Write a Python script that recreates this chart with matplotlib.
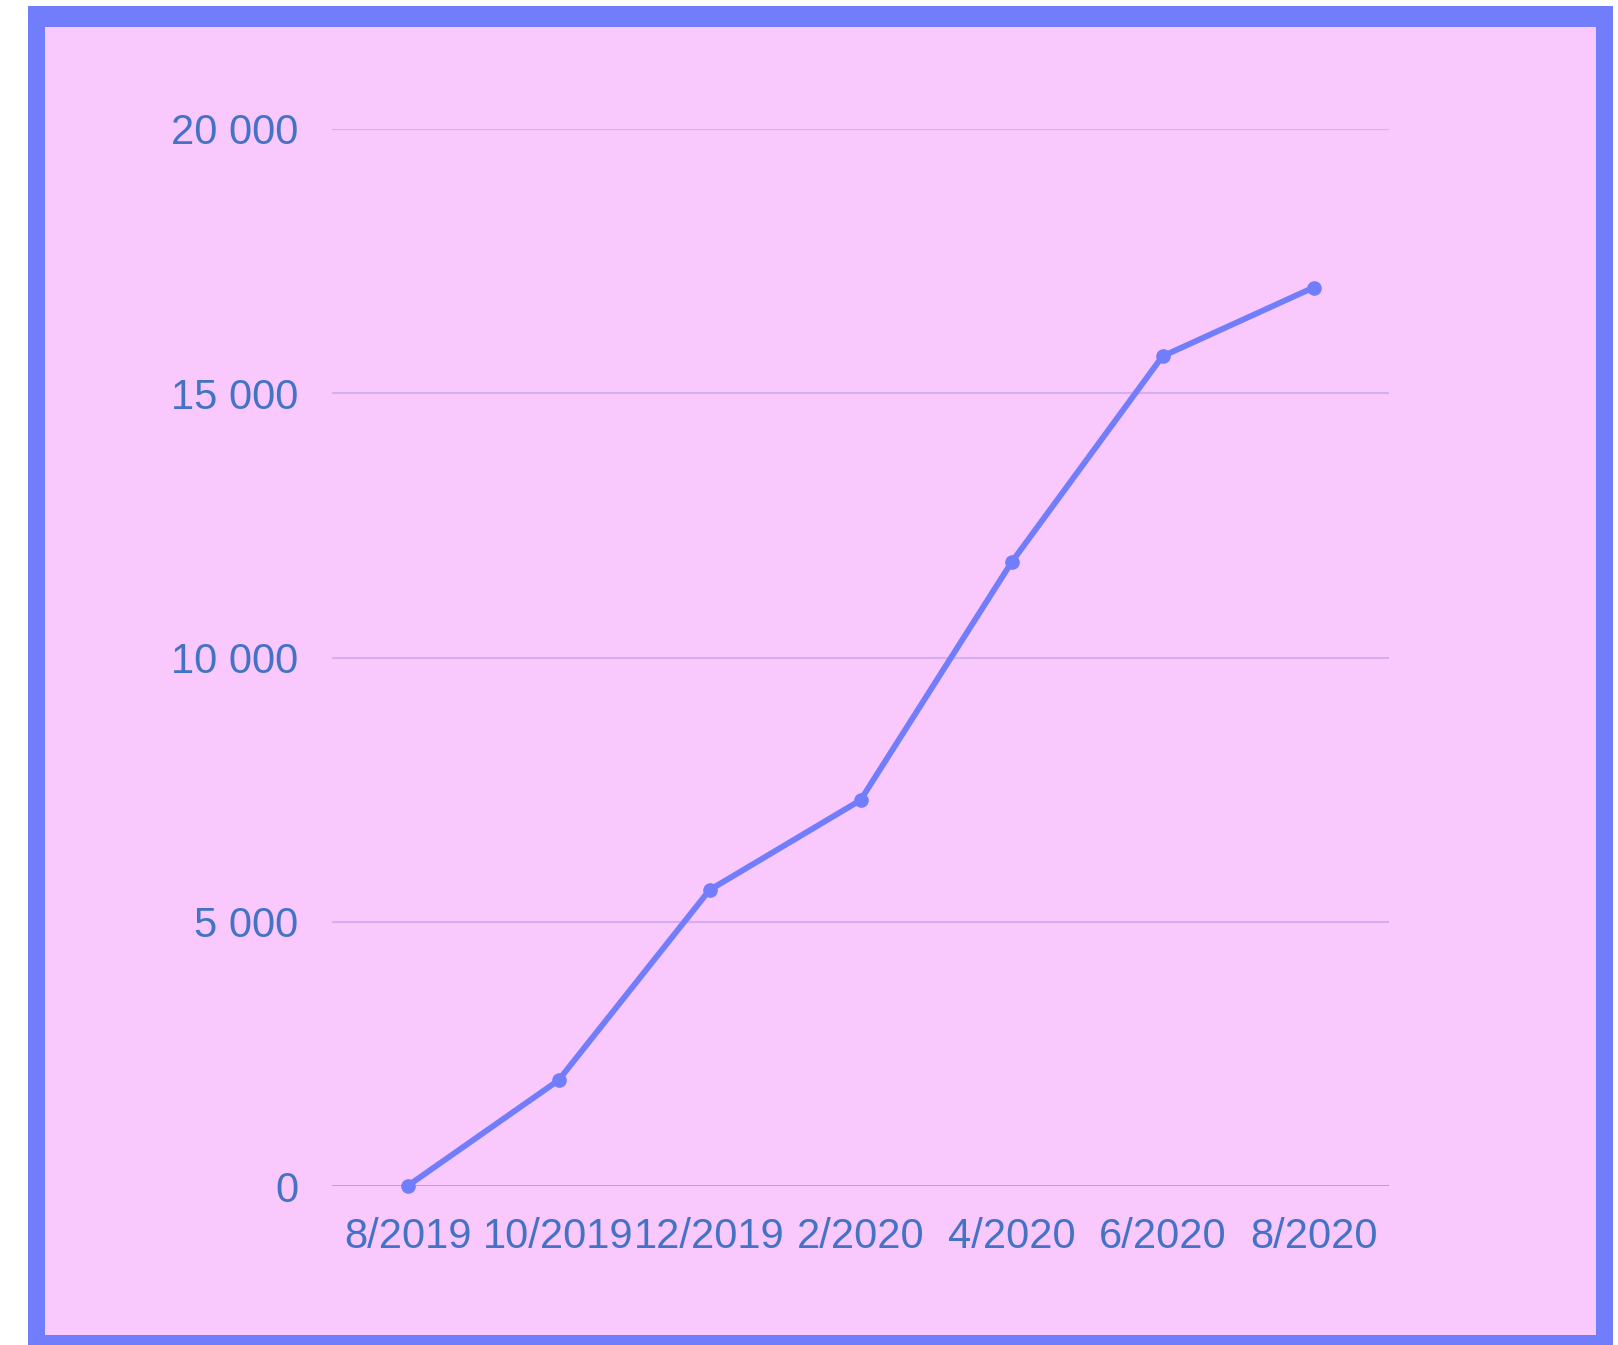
import matplotlib

matplotlib.use('Agg')

import matplotlib.pyplot as plt
from matplotlib.patches import Rectangle
from matplotlib.ticker import FuncFormatter

plt.rcParams['font.family'] = ['Liberation Sans', 'DejaVu Sans']

# data
months = ["8/2019", "10/2019", "12/2019", "2/2020", "4/2020", "6/2020", "8/2020"]
values = [0, 2000, 5600, 7300, 11800, 15700, 17000]
y_ticks = [0, 5000, 10000, 15000, 20000]

W, H = 1618, 1345
border_col = "#717dfb"
bg_col = "#f9c8fd"
text_col = "#4472c4"


def main():
    fig = plt.figure(figsize=(W / 100, H / 100), dpi=100)
    fig.patch.set_facecolor("white")

    # outer frame and pink panel (pixel coords -> figure fraction)
    fig.patches.append(Rectangle((28 / W, 0), (1613 - 28) / W, (H - 6) / H, lw=0,
                                 transform=fig.transFigure, color=border_col, zorder=-2))
    fig.patches.append(Rectangle((45 / W, (H - 1335) / H), (1596 - 45) / W, (1335 - 27) / H, lw=0,
                                 transform=fig.transFigure, color=bg_col, zorder=-1))

    ax = fig.add_axes([332 / W, 1 - 1186 / H, (1389 - 332) / W, (1186 - 129) / H])
    ax.set_facecolor("none")

    x = list(range(len(months)))
    ax.plot(x, values, color=border_col, lw=4.2, marker="o", markersize=9.5,
            solid_capstyle="round", zorder=3, clip_on=False)

    ax.set_xlim(-0.5, len(months) - 0.5)
    ax.set_ylim(0, 20000)
    ax.set_yticks(y_ticks)
    ax.yaxis.set_major_formatter(FuncFormatter(lambda v, p: "{:,}".format(int(v)).replace(",", " ")))
    ax.set_xticks(x)
    ax.set_xticklabels(months)

    for v in y_ticks[1:]:
        ax.axhline(v, color="#d3aff0", lw=1.5, zorder=1)
    ax.axhline(0, color="#8a9be0", lw=1.8, zorder=2)

    for s in ax.spines.values():
        s.set_visible(False)
    ax.tick_params(axis="both", length=0, labelsize=30, colors=text_col)
    ax.tick_params(axis="y", pad=24)
    ax.tick_params(axis="x", pad=22)

    plt.savefig("out.png", dpi=100)


if __name__ == '__main__':
    main()
